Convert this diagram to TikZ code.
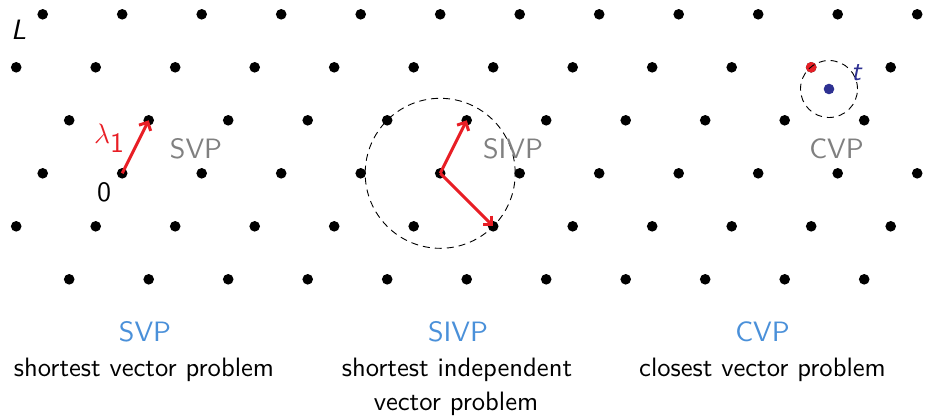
\documentclass[tikz,border=0pt]{standalone}
\usepackage{fix-cm}
\usepackage{fontspec}
\setsansfont{lmsans10-regular.otf}[ItalicFont=lmsans10-oblique.otf,BoldFont=lmsans10-bold.otf]
\usetikzlibrary{arrows.meta}
\definecolor{vred}{RGB}{232,30,37}
\definecolor{vblue}{RGB}{74,144,217}
\definecolor{tblue}{RGB}{46,49,146}
\definecolor{lgray}{RGB}{128,128,128}
\tikzset{
  dot/.style={circle,fill=black,inner sep=0pt,minimum size=10.6pt},
  vec/.style={draw=vred,line width=3pt,-{Straight Barb[length=6.5pt,width=13pt]}},
  ring/.style={dash pattern=on 7pt off 5pt,line width=0.9pt},
  title/.style={font=\sffamily\fontsize{28}{32}\selectfont,text=vblue,anchor=base,inner sep=0pt},
  desc/.style={font=\sffamily\fontsize{26.6}{30}\selectfont,anchor=base,inner sep=0pt},
  tag/.style={font=\sffamily\fontsize{28}{32}\selectfont,text=lgray,anchor=base,inner sep=0pt},
  lbl/.style={font=\sffamily\fontsize{28}{32}\selectfont,anchor=base,inner sep=0pt},
}
\begin{document}
\begin{tikzpicture}[x=1pt,y=-1pt]
\useasboundingbox (0,0) rectangle (926,416);
% lattice points
\foreach \r/\off/\n in {0/42.7/11,1/16.2/11,2/69.2/10,3/42.7/11,4/16.2/11,5/69.2/10}{
  \foreach \k in {0,...,\n}{
    \node[dot] (p\r-\k) at ({\off+79.5*\k},{14.3+53*\r}) {};
  }
}
% closest lattice point (red)
\node[dot,fill=vred] (close) at (p1-10) {};
% target t
\node[dot,fill=tblue] (t) at (829,89) {};
% dashed circles
\draw[ring] (p3-5.center) circle (75pt);
\draw[ring] (t.center) circle (28.5pt);
% vectors
\draw[vec] (p3-1.center) -- (p2-1.center);
\draw[vec] (p3-5.center) -- (p2-5.center);
\draw[vec] (p3-5.center) -- (p4-6.center);
% labels in the lattice
\node[lbl,anchor=base west] (Lname) at (11,39) {\itshape L};
\node[lbl] (zero) at (104,201) {0};
\node[lbl,text=vred,anchor=base west] (lam) at (94,143.3) {$\lambda_{\textsf{1}}$};
\node[lbl,text=tblue,anchor=base west] (tname) at (851,80) {\itshape t};
\node[tag] (g1) at (196,158) {SVP};
\node[tag] (g2) at (513,158) {SIVP};
\node[tag] (g3) at (836.5,158) {CVP};
% bottom captions
\node[title] (s1) at (145,341.7) {SVP};
\node[title] (s2) at (458,341.7) {SIVP};
\node[title] (s3) at (762.5,341.7) {CVP};
\node[desc] (d1) at (144,376.5) {shortest vector problem};
\node[desc] (d2) at (457,376.5) {shortest independent};
\node[desc] (d2b) at (456,410) {vector problem};
\node[desc] (d3) at (762.5,376.5) {closest vector problem};
\end{tikzpicture}
\end{document}
